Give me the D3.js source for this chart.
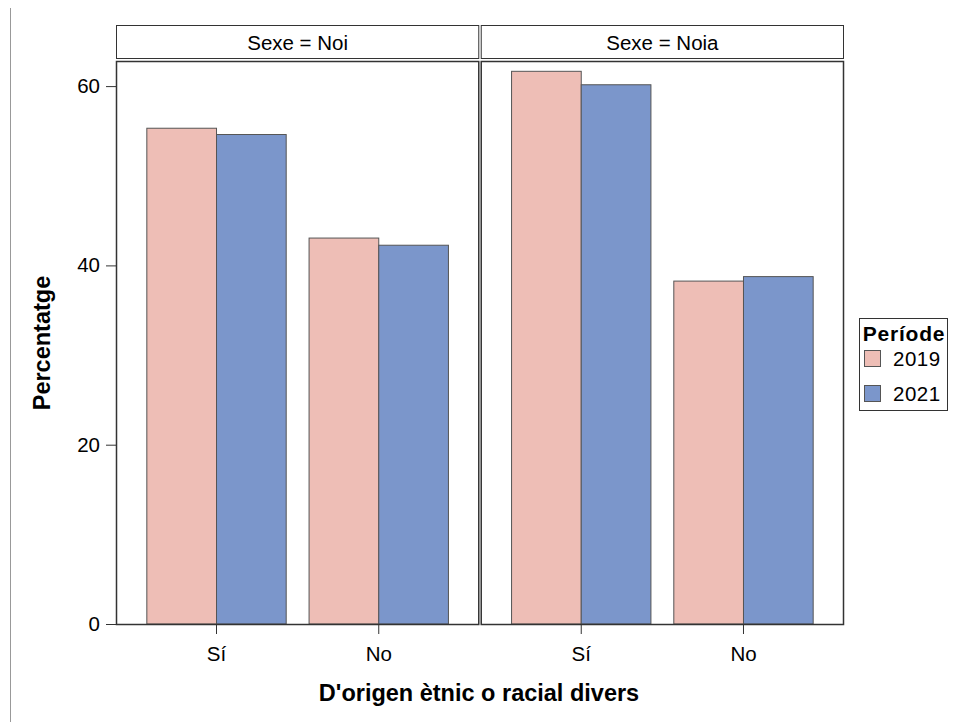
<!DOCTYPE html>
<html><head><meta charset="utf-8">
<script src="https://cdn.jsdelivr.net/npm/d3@7"></script>
<style>body{margin:0;background:#fff}svg{display:block;font-family:"Liberation Sans",Arial,sans-serif}</style>
</head><body>
<svg id="c" width="953" height="722"></svg>
<script>
const panels = ["Sexe = Noi", "Sexe = Noia"];
const categories = ["Sí", "No"];
const periods = ["2019", "2021"];
const values2019 = [[55.3, 43.05], [61.65, 38.25]];
const values2021 = [[54.6, 42.25], [60.15, 38.75]];
const yTicks = [0, 20, 40, 60];
const colors = ["#EEBEB6", "#7B96CB"];

const svg = d3.select("#c");
svg.append("line").attr("x1",10.5).attr("x2",10.5).attr("y1",8).attr("y2",722).attr("stroke","#999").attr("stroke-width",1);

const plotTop = 61, plotBottom = 624;
const y = d3.scaleLinear().domain([0, 62.8]).range([plotBottom, plotTop]);
const panelX = d3.scaleBand().domain(panels).range([116, 844]).paddingInner(0.004);

panels.forEach((p, pi) => {
  const x0 = panelX(p), w = panelX.bandwidth();
  const g = svg.append("g");
  g.append("rect").attr("x", x0+0.5).attr("y", 25.5).attr("width", w-1).attr("height", 33)
    .attr("fill","#fff").attr("stroke","#333").attr("stroke-width",1);
  g.append("text").attr("x", x0 + w/2).attr("y", 50).attr("text-anchor","middle")
    .attr("font-size",20.5).attr("fill","#000").text(p);
  const xc = d3.scaleBand().domain(categories).range([x0, x0 + w]).paddingInner(0.141).paddingOuter(0.19);
  const xs = d3.scaleBand().domain(periods).range([0, xc.bandwidth()]);
  categories.forEach((c, ci) => {
    const vals = [values2019[pi][ci], values2021[pi][ci]];
    periods.forEach((per, si) => {
      g.append("rect").attr("x", xc(c) + xs(per)).attr("y", y(vals[si]))
        .attr("width", xs.bandwidth()).attr("height", y(0) - y(vals[si]))
        .attr("fill", colors[si]).attr("stroke","#555").attr("stroke-width",1);
    });
  });
  g.append("rect").attr("x", x0+0.5).attr("y", plotTop+0.5).attr("width", w-1).attr("height", plotBottom-plotTop)
    .attr("fill","none").attr("stroke","#333").attr("stroke-width",1.5);
  const ax = g.append("g").attr("transform", `translate(0,${plotBottom})`)
    .call(d3.axisBottom(xc).tickSize(10).tickPadding(12));
  ax.select(".domain").remove();
  ax.selectAll("line").attr("stroke","#333");
  ax.selectAll("text").attr("font-size",20.5).attr("fill","#000").attr("font-family","Liberation Sans, Arial, sans-serif");
});

const ay = svg.append("g").attr("transform", `translate(116,0)`)
  .call(d3.axisLeft(y).tickValues(yTicks).tickSize(10).tickPadding(6));
ay.select(".domain").remove();
ay.selectAll("line").attr("stroke","#333");
ay.selectAll("text").attr("font-size",20.5).attr("fill","#000").attr("font-family","Liberation Sans, Arial, sans-serif");

svg.append("text").attr("transform","translate(50,343) rotate(-90)").attr("text-anchor","middle")
  .attr("font-size",23.5).attr("font-weight","bold").text("Percentatge");
svg.append("text").attr("x",479).attr("y",701).attr("text-anchor","middle")
  .attr("font-size",23.5).attr("font-weight","bold").text("D'origen ètnic o racial divers");

const lg = svg.append("g");
lg.append("rect").attr("x",859.5).attr("y",318.5).attr("width",88).attr("height",92).attr("fill","#fff").attr("stroke","#333");
lg.append("text").attr("x",904).attr("y",341).attr("text-anchor","middle").attr("font-size",21).attr("font-weight","bold")
  .attr("letter-spacing",0.8).text("Període");
periods.forEach((per, i) => {
  lg.append("rect").attr("x",864.5).attr("y",350.5 + i*35).attr("width",16).attr("height",16)
    .attr("fill",colors[i]).attr("stroke","#555");
  lg.append("text").attr("x",893).attr("y",366 + i*35).attr("font-size",20.5).attr("letter-spacing",0.5).text(per);
});
</script>
</body></html>
